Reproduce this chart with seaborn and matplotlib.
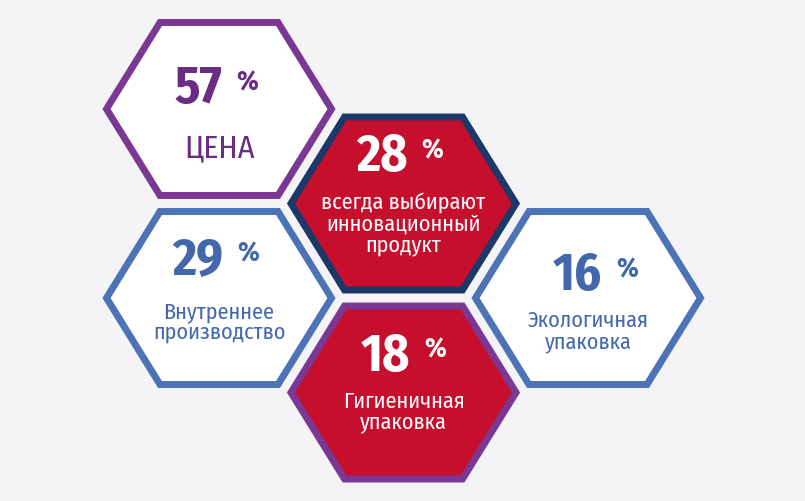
import matplotlib
matplotlib.use("Agg")
import matplotlib.pyplot as plt
from matplotlib.patches import Polygon
from matplotlib import font_manager
import seaborn as sns

# data
values = [57, 28, 29, 18, 16]
labels = [
    "ЦЕНА",
    "всегда выбирают\nинновационный\nпродукт",
    "Внутреннее\nпроизводство",
    "Гигиеничная\nупаковка",
    "Экологичная\nупаковка",
]
# layout: hex grid column / row (row in half steps)
grid_col = [0, 1, 0, 1, 2]
grid_row = [0, 1, 2, 3, 2]

fill_colors = ["white", "#C50F2C", "white", "#C50F2C", "white"]
edge_colors = ["#7B3794", "#1C3869", "#4B73B6", "#7B3794", "#4B73B6"]
text_colors = ["#6A2D85", "white", "#4267AA", "white", "#4267AA"]

sns.set_style("white")
names = {f.name for f in font_manager.fontManager.ttflist}
prefs = ["Fira Sans Condensed", "PT Sans Narrow", "Roboto Condensed",
         "Open Sans Condensed", "Liberation Sans Narrow", "DejaVu Sans"]
font = next(p for p in prefs if p in names)
plt.rcParams["font.family"] = [font, "DejaVu Sans"]

fig = plt.figure(figsize=(8.05, 5.01), dpi=100)
fig.patch.set_facecolor("#F4F4F6")
ax = fig.add_axes([0, 0, 1, 1])
ax.set_facecolor("#F4F4F6")
ax.set_xlim(0, 805)
ax.set_ylim(501, 0)
ax.axis("off")

x0, y0 = 219, 109
dx, dy = 184.5, 94.5
hw, ht, hh = 112.5, 59, 86.5  # half width, top half length, half height (stroke centre)

num_dy = [-6, -32, -24, -22, -8]
lab_dy = [48, 6, 20, 15, 29]
num_dx = [3, 4, 4, 7, 14]

for i in range(len(values)):
    cx = x0 + grid_col[i] * dx
    cy = y0 + grid_row[i] * dy
    pts = [(cx - hw, cy), (cx - ht, cy - hh), (cx + ht, cy - hh),
           (cx + hw, cy), (cx + ht, cy + hh), (cx - ht, cy + hh)]
    ax.add_patch(Polygon(pts, closed=True, facecolor=fill_colors[i],
                         edgecolor=edge_colors[i], linewidth=5, joinstyle="miter"))
    nb = cy + num_dy[i]
    ax.text(cx + num_dx[i], nb, str(values[i]), ha="right", va="baseline",
            fontsize=37.5, fontweight="bold", color=text_colors[i])
    ax.text(cx + num_dx[i] + 14, nb - 13, "%", ha="left", va="baseline",
            fontsize=20, fontweight="bold", color=text_colors[i])
    if i == 0:
        ax.text(cx, cy + lab_dy[i], labels[i], ha="center", va="baseline",
                fontsize=23, color=text_colors[i])
    else:
        lines = labels[i].split("\n")
        for k, ln in enumerate(lines):
            ax.text(cx, cy + lab_dy[i] + k * 21, ln, ha="center", va="baseline",
                    fontsize=16, color=text_colors[i])

fig.savefig("out.png", dpi=100, facecolor=fig.get_facecolor())
